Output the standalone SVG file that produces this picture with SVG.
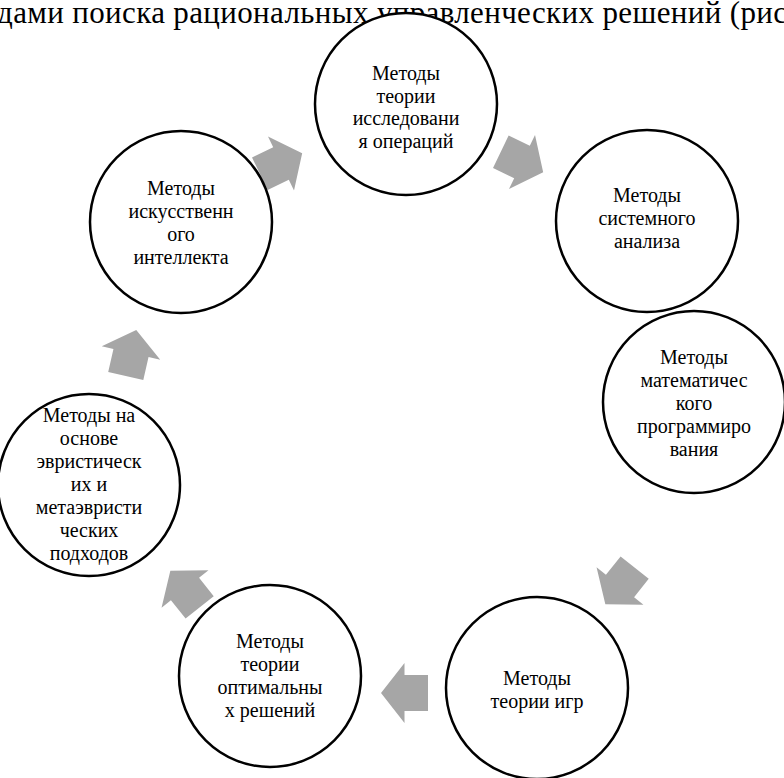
<svg xmlns="http://www.w3.org/2000/svg" width="784" height="778" viewBox="0 0 784 778">
<style>
.c{fill:#fff;stroke:#000;stroke-width:2.5}
.t{font-family:'Liberation Serif',serif;font-size:20px;fill:#000;text-anchor:middle}
.a{fill:#A6A6A6}
.h{font-family:'Liberation Serif',serif;font-size:31px;fill:#000}
</style>
<defs>
<path id="arr" d="M-23.5,-18 L0,-18 L0,-30 L23.5,0 L0,30 L0,18 L-23.5,18 Z"/>
</defs>
<rect width="784" height="778" fill="#fff"/>
<text class="h" font-family="Liberation Serif, serif" x="-3" y="23" textLength="790">дами поиска рациональных управленческих решений (рис</text>
<g id="connectors">
<use href="#arr" class="a" transform="translate(522,162) rotate(25.7)"/>
<use href="#arr" class="a" transform="translate(674,350) rotate(77.1)"/>
<use href="#arr" class="a" transform="translate(620,586) rotate(128.6)"/>
<use href="#arr" class="a" transform="translate(404.5,693) rotate(180)"/>
<use href="#arr" class="a" transform="translate(185,589) rotate(231.4)"/>
<use href="#arr" class="a" transform="translate(131,353) rotate(282.9)"/>
<use href="#arr" class="a" transform="translate(281,163.5) rotate(334.3)"/>
</g>
<g id="n1">
<circle class="c" cx="406" cy="104" r="91"/>
<text class="t" font-family="Liberation Serif, serif" x="406" y="80">Методы<tspan x="406" dy="22.5">теории</tspan><tspan x="406" dy="22.5">исследовани</tspan><tspan x="406" dy="22.5">я операций</tspan></text>
</g>
<g id="n2">
<circle class="c" cx="647" cy="221" r="91"/>
<text class="t" font-family="Liberation Serif, serif" x="647" y="202">Методы<tspan x="647" dy="23">системного</tspan><tspan x="647" dy="23">анализа</tspan></text>
</g>
<g id="n3">
<circle class="c" cx="694" cy="402" r="91"/>
<text class="t" font-family="Liberation Serif, serif" x="694" y="364">Методы<tspan x="694" dy="23">математичес</tspan><tspan x="694" dy="23">кого</tspan><tspan x="694" dy="23">программиро</tspan><tspan x="694" dy="23">вания</tspan></text>
</g>
<g id="n4">
<circle class="c" cx="537" cy="688" r="91"/>
<text class="t" font-family="Liberation Serif, serif" x="537" y="685">Методы<tspan x="537" dy="23">теории игр</tspan></text>
</g>
<g id="n5">
<circle class="c" cx="270" cy="676" r="91"/>
<text class="t" font-family="Liberation Serif, serif" x="270" y="648">Методы<tspan x="270" dy="23">теории</tspan><tspan x="270" dy="23">оптимальны</tspan><tspan x="270" dy="23">х решений</tspan></text>
</g>
<g id="n6">
<circle class="c" cx="89" cy="485" r="91"/>
<text class="t" font-family="Liberation Serif, serif" x="89" y="422">Методы на<tspan x="89" dy="23">основе</tspan><tspan x="89" dy="23">эвристическ</tspan><tspan x="89" dy="23">их и</tspan><tspan x="89" dy="23">метаэвристи</tspan><tspan x="89" dy="23">ческих</tspan><tspan x="89" dy="23">подходов</tspan></text>
</g>
<g id="n7">
<circle class="c" cx="181" cy="222" r="91"/>
<text class="t" font-family="Liberation Serif, serif" x="181" y="195">Методы<tspan x="181" dy="23">искусственн</tspan><tspan x="181" dy="23">ого</tspan><tspan x="181" dy="23">интеллекта</tspan></text>
</g>
</svg>
